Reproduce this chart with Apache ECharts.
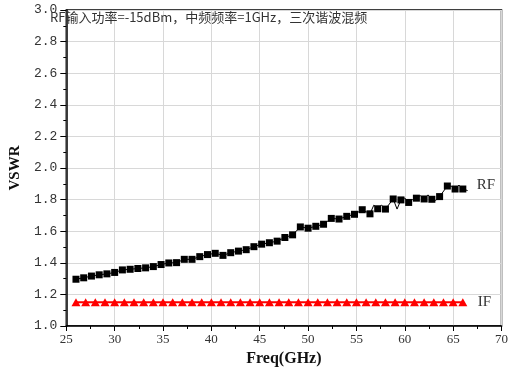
<!DOCTYPE html>
<html>
<head>
<meta charset="utf-8">
<script src="https://cdn.jsdelivr.net/npm/echarts@6/dist/echarts.min.js"></script>
<style>html,body{margin:0;padding:0;background:#fff}#c{width:511px;height:372px}</style>
</head>
<body>
<div id="c"></div>
<script>
// RF marker points (every 0.8 GHz)
const rfFreq = [26.0, 26.8, 27.6, 28.4, 29.2, 30.0, 30.8, 31.6, 32.4, 33.2, 34.0, 34.8, 35.6, 36.4, 37.2, 38.0, 38.8, 39.6, 40.4, 41.2, 42.0, 42.8, 43.6, 44.4, 45.2, 46.0, 46.8, 47.6, 48.4, 49.2, 50.0, 50.8, 51.6, 52.4, 53.2, 54.0, 54.8, 55.6, 56.4, 57.2, 58.0, 58.8, 59.6, 60.4, 61.2, 62.0, 62.8, 63.6, 64.4, 65.2, 66.0];
const rfVswr = [1.296, 1.305, 1.316, 1.324, 1.330, 1.339, 1.355, 1.359, 1.364, 1.368, 1.376, 1.389, 1.399, 1.401, 1.422, 1.422, 1.439, 1.452, 1.460, 1.447, 1.464, 1.474, 1.483, 1.502, 1.518, 1.527, 1.537, 1.560, 1.577, 1.627, 1.619, 1.631, 1.644, 1.681, 1.677, 1.694, 1.707, 1.736, 1.710, 1.742, 1.740, 1.804, 1.798, 1.782, 1.809, 1.804, 1.802, 1.819, 1.886, 1.867, 1.867];
// extra RF trace points between markers (noisy high-frequency part)
const rfTraceFreq = [56.8, 57.6, 59.2, 60.0, 60.8, 61.6, 62.4, 63.2, 64.8, 65.6, 66.5];
const rfTraceVswr = [1.765, 1.765, 1.740, 1.810, 1.800, 1.825, 1.830, 1.795, 1.885, 1.892, 1.857];
// IF points (every 1 GHz)
const ifFreq = [26, 27, 28, 29, 30, 31, 32, 33, 34, 35, 36, 37, 38, 39, 40, 41, 42, 43, 44, 45, 46, 47, 48, 49, 50, 51, 52, 53, 54, 55, 56, 57, 58, 59, 60, 61, 62, 63, 64, 65, 66];
const ifVswr = [1.15, 1.15, 1.15, 1.15, 1.15, 1.15, 1.15, 1.15, 1.15, 1.15, 1.15, 1.15, 1.15, 1.15, 1.15, 1.15, 1.15, 1.15, 1.15, 1.15, 1.15, 1.15, 1.15, 1.15, 1.15, 1.15, 1.15, 1.15, 1.15, 1.15, 1.15, 1.15, 1.15, 1.15, 1.15, 1.15, 1.15, 1.15, 1.15, 1.15, 1.15];
const xTicks = [25, 30, 35, 40, 45, 50, 55, 60, 65, 70];
const yTicks = [1.0, 1.2, 1.4, 1.6, 1.8, 2.0, 2.2, 2.4, 2.6, 2.8, 3.0];
const titleText = 'RF输入功率=-15dBm，中频频率=1GHz，三次谐波混频';

const rfMarkers = rfFreq.map((f, i) => [f, rfVswr[i]]);
const rfTrace = rfMarkers.concat(rfTraceFreq.map((f, i) => [f, rfTraceVswr[i]])).sort((a, b) => a[0] - b[0]);
const ifData = ifFreq.map((f, i) => [f, ifVswr[i]]);

const chart = echarts.init(document.getElementById('c'));
chart.setOption({
  animation: false,
  backgroundColor: '#fff',
  title: {
    text: titleText, left: 50, top: 11, padding: 0,
    textStyle: { fontFamily: 'Noto Sans CJK SC', fontSize: 13, fontWeight: 'normal', color: '#333' }
  },
  grid: { left: 49, right: 6, top: 10, bottom: 43, show: true, borderColor: '#000', borderWidth: 1.5, containLabel: false },
  xAxis: {
    type: 'value', min: xTicks[0], max: xTicks[xTicks.length - 1], interval: 5,
    name: 'Freq(GHz)', nameLocation: 'middle', nameGap: 25,
    nameTextStyle: { fontFamily: 'Liberation Serif', fontWeight: 'bold', fontSize: 16, color: '#111' },
    axisLine: { show: true, lineStyle: { color: '#000', width: 1.5 } },
    axisTick: { show: true, length: 5, lineStyle: { color: '#000' } },
    minorTick: { show: true, splitNumber: 2, length: 3, lineStyle: { color: '#000' } },
    axisLabel: { fontFamily: 'Liberation Serif', fontSize: 13, color: '#333', margin: 7 },
    splitLine: { show: true, lineStyle: { color: '#d8d8d8', width: 1 } }
  },
  yAxis: {
    type: 'value', min: yTicks[0], max: yTicks[yTicks.length - 1], interval: 0.2,
    name: 'VSWR', nameLocation: 'middle', nameGap: 37,
    nameTextStyle: { fontFamily: 'Liberation Serif', fontWeight: 'bold', fontSize: 15, color: '#111' },
    axisLine: { show: true, lineStyle: { color: '#000', width: 1.5 } },
    axisTick: { show: true, length: 6, lineStyle: { color: '#000' } },
    minorTick: { show: true, splitNumber: 2, length: 3, lineStyle: { color: '#000' } },
    axisLabel: { fontFamily: 'Liberation Mono', fontSize: 13, color: '#333', margin: 9, formatter: v => v.toFixed(1) },
    splitLine: { show: true, lineStyle: { color: '#d8d8d8', width: 1 } }
  },
  series: [
    {
      name: 'IF', type: 'line', data: ifData, symbol: 'triangle', symbolSize: [9, 8], showAllSymbol: true,
      lineStyle: { color: '#ff0000', width: 2 }, itemStyle: { color: '#ff0000', opacity: 1 },
      endLabel: { show: true, formatter: '{a}', distance: 15, fontFamily: 'Liberation Serif', fontSize: 15, color: '#333' }
    },
    {
      name: 'RF', type: 'line', data: rfTrace, symbol: 'none',
      lineStyle: { color: '#000', width: 1 },
      endLabel: { show: true, formatter: '{a}', distance: 9, offset: [0, -6], fontFamily: 'Liberation Serif', fontSize: 15, color: '#333' }
    },
    {
      name: 'RF markers', type: 'scatter', data: rfMarkers, symbol: 'rect', symbolSize: 7,
      itemStyle: { color: '#000', opacity: 1 }
    }
  ]
});
</script>
</body>
</html>
